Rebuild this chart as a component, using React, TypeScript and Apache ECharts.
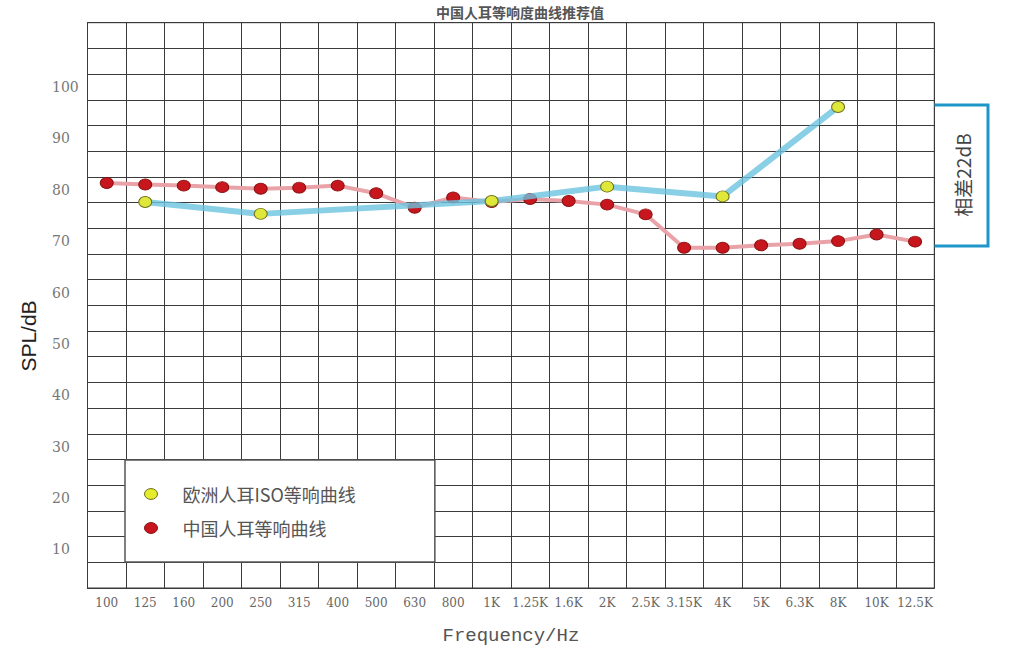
import React, { useEffect, useRef } from "react";
import * as echarts from "echarts";

const frequencies = ["100", "125", "160", "200", "250", "315", "400", "500", "630", "800", "1K", "1.25K", "1.6K", "2K", "2.5K", "3.15K", "4K", "5K", "6.3K", "8K", "10K", "12.5K"];
const chineseSPL = [81.3, 81.0, 80.8, 80.5, 80.2, 80.4, 80.8, 79.3, 76.5, 78.5, 77.6, 78.2, 77.8, 77.1, 75.2, 68.7, 68.7, 69.2, 69.5, 70.0, 71.3, 69.9];
const isoSPL: (number | null)[] = [null, 77.6, null, null, 75.3, null, null, null, null, null, 77.8, null, null, 80.6, null, null, 78.7, null, null, 96.1, null, null];
const seriesNames = ["欧洲人耳ISO等响曲线", "中国人耳等响曲线"];
const titleText = "中国人耳等响度曲线推荐值";
const noteText = "相差22dB";

const ELLIPSE = "path://M0,5a6,5 0 1,0 12,0a6,5 0 1,0 -12,0z";

export default function App() {
  const ref = useRef<HTMLDivElement>(null);
  useEffect(() => {
    if (!ref.current) return;
    const chart = echarts.init(ref.current, undefined, { renderer: "svg" });
    const gridLine = { color: "#3a3a3a", width: 1 };
    chart.setOption({
      animation: false,
      backgroundColor: "#ffffff",
      title: {
        text: titleText,
        left: 520,
        textAlign: "center",
        top: 4,
        padding: 0,
        textStyle: { fontFamily: "Noto Sans CJK SC", fontSize: 14, lineHeight: 16, fontWeight: "bold", color: "#555" },
      },
      grid: { left: 87.5, right: 82.7, top: 22.7, bottom: 60.7, show: true, borderColor: "#3a3a3a", borderWidth: 1, backgroundColor: "transparent" },
      legend: {
        orient: "vertical",
        left: 125,
        top: 460,
        padding: [24, 79, 24, 19],
        itemGap: 14,
        itemWidth: 13,
        itemHeight: 11,
        backgroundColor: "#ffffff",
        borderColor: "#555",
        borderWidth: 1.5,
        borderRadius: 0,
        selectedMode: false,
        data: [
          { name: seriesNames[0], icon: ELLIPSE, itemStyle: { color: "#e4ec2c", borderColor: "#6f6f1a", borderWidth: 1 } },
          { name: seriesNames[1], icon: ELLIPSE, itemStyle: { color: "#c8161e", borderColor: "#8a1010", borderWidth: 1 } },
        ],
        formatter: (n: string) => "{g|}" + n,
        textStyle: {
          fontFamily: "Noto Sans CJK SC",
          fontSize: 18,
          color: "#555",
          lineHeight: 20,
          rich: { g: { width: 20 } },
        },
      },
      xAxis: {
        type: "category",
        data: frequencies,
        boundaryGap: true,
        axisLine: { show: true, lineStyle: gridLine },
        axisTick: { show: false },
        splitLine: { show: true, interval: 0, lineStyle: gridLine },
        axisLabel: { interval: 0, margin: 9, fontFamily: "DejaVu Serif", fontSize: 12, color: "#666" },
        name: "Frequency/Hz",
        nameLocation: "middle",
        nameGap: 38,
        nameTextStyle: { fontFamily: "Liberation Mono", fontSize: 19, color: "#555" },
      },
      yAxis: [
        {
          type: "value",
          min: 2.5,
          max: 112.5,
          interval: 5,
          axisLine: { show: true, lineStyle: gridLine },
          axisTick: { show: false },
          axisLabel: { show: false },
          splitLine: { show: true, lineStyle: gridLine },
        },
        {
          type: "value",
          position: "left",
          min: 2.5,
          max: 112.5,
          interval: 2.5,
          axisLine: { show: false },
          axisTick: { show: false },
          splitLine: { show: false },
          axisLabel: {
            align: "left",
            margin: 35.5,
            fontFamily: "DejaVu Serif",
            fontSize: 14,
            color: "#777",
            formatter: (v: number) => (Math.abs(v % 10) < 1e-6 && v <= 100 ? String(Math.round(v)) : ""),
          },
        },
      ],
      series: [
        {
          name: seriesNames[1],
          type: "line",
          yAxisIndex: 0,
          data: chineseSPL,
          symbol: ELLIPSE,
          symbolSize: [13, 11],
          lineStyle: { color: "#e9a3a8", width: 4 },
          itemStyle: { color: "#c8161e", borderColor: "#8a1010", borderWidth: 1 },
          z: 3,
        },
        {
          name: seriesNames[0],
          type: "line",
          yAxisIndex: 0,
          data: isoSPL,
          connectNulls: true,
          symbol: ELLIPSE,
          symbolSize: [13, 11],
          lineStyle: { color: "#6cc3df", width: 6, opacity: 0.8 },
          itemStyle: { color: "#dfe83a", borderColor: "#6f6f1a", borderWidth: 1 },
          z: 4,
        },
      ],
      graphic: [
        {
          type: "polyline",
          shape: { points: [[934.5, 105], [988, 105], [988, 246], [934.5, 246]] },
          style: { stroke: "#1e96c8", lineWidth: 3, fill: "none" },
          z: 10,
        },
        {
          type: "text",
          x: 962,
          y: 175,
          rotation: Math.PI / 2,
          style: { text: noteText, fontFamily: "Noto Sans CJK SC", fontSize: 19, fill: "#444", align: "center", verticalAlign: "middle" },
          z: 10,
        },
        {
          type: "text",
          x: 28,
          y: 336,
          rotation: Math.PI / 2,
          style: { text: "SPL/dB", fontFamily: "Liberation Sans", fontSize: 21, fill: "#222", align: "center", verticalAlign: "middle" },
          z: 10,
        },
      ],
    });
    return () => chart.dispose();
  }, []);
  return <div ref={ref} style={{ position: "fixed", left: 0, top: 0, width: 1017, height: 650 }} />;
}
